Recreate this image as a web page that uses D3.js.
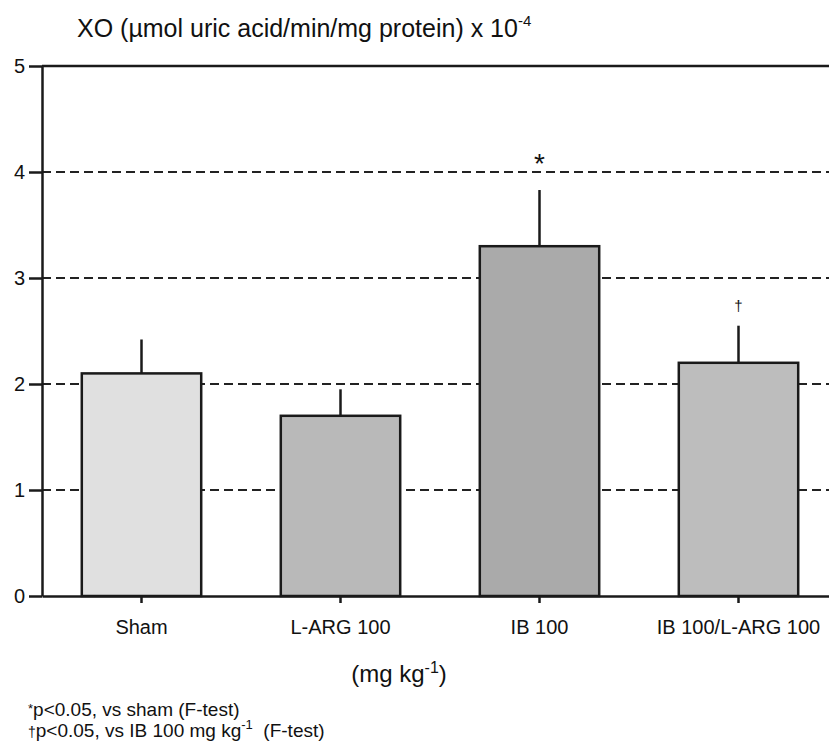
<!DOCTYPE html>
<meta charset="utf-8">
<script src="https://d3js.org/d3.v7.min.js"></script>
<style>
  body { margin: 0; background: #fff; }
  text { font-family: Arial, "Liberation Sans", sans-serif; fill: #111; }
</style>
<div id="chart"></div>
<script>

    // data
    var groups = ["Sham", "L-ARG 100", "IB 100", "IB 100/L-ARG 100"];
    var means = [2.1, 1.7, 3.3, 2.2];
    var errors = [0.32, 0.25, 0.53, 0.35];
    var marks = ["", "", "*", "\u2020"];
    var fills = ["#e0e0e0", "#b9b9b9", "#aaaaaa", "#bdbdbd"];
    var yTicks = [0, 1, 2, 3, 4, 5];

    var W = 829, H = 746;
    var plot = {left: 42, right: 829, top: 66, bottom: 596};

    var svg = d3.select("#chart")
      .append("svg")
        .attr("width", W)
        .attr("height", H);

    var x = d3.scaleBand()
        .domain(groups)
        .range([plot.left, plot.left + 4 * 199])
        .paddingInner(0.4)
        .paddingOuter(0.2);

    var y = d3.scaleLinear()
        .domain([0, 5])
        .range([plot.bottom, plot.top]);

    // dashed grid lines behind the bars
    svg.selectAll(".grid")
      .data(yTicks.filter(function(d) { return d > 0 && d < 5; }))
      .enter()
      .append("line")
        .attr("x1", plot.left).attr("x2", plot.right)
        .attr("y1", function(d) { return y(d); })
        .attr("y2", function(d) { return y(d); })
        .style("stroke", "#222")
        .style("stroke-width", 2)
        .style("stroke-dasharray", "9,5");

    // solid line at the top
    svg.append("line")
        .attr("x1", plot.left).attr("x2", plot.right)
        .attr("y1", y(5)).attr("y2", y(5))
        .style("stroke", "#1a1a1a")
        .style("stroke-width", 2.5);

    // error bars (upper only)
    svg.selectAll(".err")
      .data(groups)
      .enter()
      .append("line")
        .attr("x1", function(d) { return x(d) + x.bandwidth() / 2; })
        .attr("x2", function(d) { return x(d) + x.bandwidth() / 2; })
        .attr("y1", function(d, i) { return y(means[i]); })
        .attr("y2", function(d, i) { return y(means[i] + errors[i]); })
        .style("stroke", "#1a1a1a")
        .style("stroke-width", 2.5);

    // bars
    svg.selectAll(".bar")
      .data(groups)
      .enter()
      .append("rect")
        .attr("x", function(d) { return x(d); })
        .attr("y", function(d, i) { return y(means[i]); })
        .attr("width", x.bandwidth())
        .attr("height", function(d, i) { return y(0) - y(means[i]); })
        .style("fill", function(d, i) { return fills[i]; })
        .style("stroke", "#1a1a1a")
        .style("stroke-width", 2.5);

    // significance marks
    svg.selectAll(".mark")
      .data(groups)
      .enter()
      .append("text")
        .attr("x", function(d) { return x(d) + x.bandwidth() / 2; })
        .attr("y", function(d, i) { return y(means[i] + errors[i]) - (marks[i] == "*" ? 17 : 15); })
        .attr("text-anchor", "middle")
        .style("font-size", function(d, i) { return marks[i] == "*" ? "28px" : "15px"; })
        .text(function(d, i) { return marks[i]; });

    // Y axis
    var yAxis = svg.append("g")
        .attr("transform", "translate(" + plot.left + ",0)")
        .call(d3.axisLeft(y).tickValues(yTicks).tickFormat(d3.format("d"))
            .tickSize(13).tickSizeOuter(0).tickPadding(4));
    yAxis.selectAll("text").style("font-size", "20px").attr("fill", "#111");
    yAxis.selectAll("line, path").attr("stroke", "#1a1a1a").style("stroke-width", 2.5);

    // X axis
    var xAxis = svg.append("g")
        .attr("transform", "translate(0," + plot.bottom + ")")
        .call(d3.axisBottom(x).tickSize(7).tickSizeOuter(0).tickPadding(17));
    xAxis.selectAll("text").style("font-size", "20px").attr("fill", "#111");
    xAxis.selectAll("line, path").attr("stroke", "#1a1a1a").style("stroke-width", 2.5);

    // title
    var title = svg.append("text")
        .attr("x", 77)
        .attr("y", 37)
        .style("font-size", "25px");
    title.append("tspan").text("XO (\u00b5mol uric acid/min/mg protein) x 10");
    title.append("tspan").attr("dy", -11).style("font-size", "15px").text("-4");

    // units under the x axis
    var unit = svg.append("text")
        .attr("x", 399)
        .attr("y", 682)
        .attr("text-anchor", "middle")
        .style("font-size", "24px");
    unit.append("tspan").text("(mg kg");
    unit.append("tspan").attr("dy", -9).style("font-size", "16px").text("-1");
    unit.append("tspan").attr("dy", 9).text(")");

    // footnotes
    var f1 = svg.append("text").attr("x", 28).attr("y", 716).style("font-size", "19px");
    f1.append("tspan").attr("dy", -3).style("font-size", "13px").text("*");
    f1.append("tspan").attr("dy", 3).text("p<0.05, vs sham (F-test)");

    var f2 = svg.append("text").attr("x", 28).attr("y", 737).style("font-size", "19px");
    f2.append("tspan").style("font-size", "14px").text("\u2020");
    f2.append("tspan").text("p<0.05, vs IB 100 mg kg");
    f2.append("tspan").attr("dy", -8).style("font-size", "13px").text("-1");
    f2.append("tspan").attr("dy", 8).text("\u00a0 (F-test)");

</script>
